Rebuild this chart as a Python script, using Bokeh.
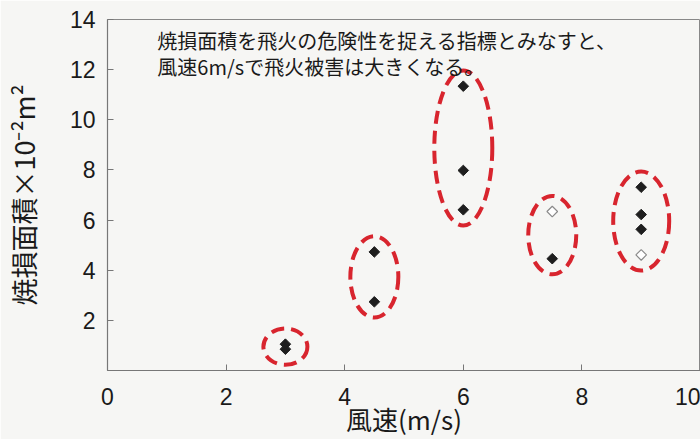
import numpy as np
from bokeh.plotting import figure
from bokeh.models import ColumnDataSource, Label, Range1d, FixedTicker
from bokeh.embed import file_html
from bokeh.resources import INLINE

# ---- data ----
wind_filled = [3.0, 3.0, 4.5, 4.5, 6.0, 6.0, 6.0, 7.5, 9.0, 9.0, 9.0]
area_filled = [1.05, 0.85, 4.73, 2.74, 11.34, 7.98, 6.41, 4.46, 7.31, 6.22, 5.63]
wind_open = [7.5, 9.0]
area_open = [6.34, 4.61]
group_wind = [3.0, 4.5, 6.0, 7.5, 9.0]
x_ticks = [0, 2, 4, 6, 8, 10]
y_ticks = [2, 4, 6, 8, 10, 12, 14]
x_title = "風速(m/s)"
y_title = "焼損面積×10⁻²m²"
note_lines = ["焼損面積を飛火の危険性を捉える指標とみなすと、",
              "風速6m/sで飛火被害は大きくなる。"]

# ---- styles ----
ellipse_w_px = [44, 48, 58, 48, 56]
ellipse_pad = 1.25
BG = "#f6f6f4"
RED = "#d8252e"
INK = "#1a1a1a"
JP = "Noto Sans CJK JP"
NUM = "Liberation Sans"

p = figure(width=700, height=439, output_backend="svg", toolbar_location=None,
           x_range=Range1d(0, 10), y_range=Range1d(0, 14),
           min_border_left=105, min_border_right=0, min_border_top=19,
           min_border_bottom=62)
p.background_fill_color = BG
p.border_fill_color = BG
p.outline_line_color = "#888888"
p.grid.visible = False

# group ellipses derived from data
allx = np.array(wind_filled + wind_open)
ally = np.array(area_filled + area_open)
cy, hh = [], []
for g in group_wind:
    ys = ally[allx == g]
    cy.append((ys.min() + ys.max()) / 2)
    hh.append(ys.max() - ys.min() + ellipse_pad)
esrc = ColumnDataSource(dict(x=group_wind, y=cy, h=hh, w=ellipse_w_px))
p.ellipse(x="x", y="y", width="w", height="h", width_units="screen",
          source=esrc, fill_alpha=0, line_color=RED, line_width=4,
          line_dash="13 7")

p.scatter(wind_filled, area_filled, marker="square", size=7.5, angle=np.pi / 4,
          fill_color="#1e1e1e", line_color="#1e1e1e")
p.scatter(wind_open, area_open, marker="square", size=7.5, angle=np.pi / 4,
          fill_color="white", line_color="#8a8a8a", line_width=1.2)

for ax in (p.xaxis[0], p.yaxis[0]):
    ax.axis_line_color = "#777777"
    ax.axis_line_width = 1.2
    ax.major_tick_in = 6
    ax.major_tick_out = 0
    ax.major_tick_line_color = "#777777"
    ax.minor_tick_line_color = None
    ax.major_label_text_font = NUM
    ax.major_label_text_font_size = "23px"
    ax.major_label_text_color = INK
    ax.axis_label_text_font = JP
    ax.axis_label_text_font_style = "normal"
    ax.axis_label_text_color = INK

p.xaxis.ticker = FixedTicker(ticks=x_ticks)
p.yaxis.ticker = FixedTicker(ticks=y_ticks)
p.xaxis.major_label_standoff = 17
p.yaxis.major_label_standoff = 12
p.xaxis.axis_label = x_title
p.xaxis.axis_label_text_font_size = "26px"
p.xaxis.axis_label_standoff = -8
p.yaxis.axis_label = y_title
p.yaxis.axis_label_text_font_size = "27px"
p.yaxis.axis_label_standoff = 24

note_x = 0.84
note_y = [13.18, 12.12]
for line, yy in zip(note_lines, note_y):
    p.add_layout(Label(x=note_x, y=yy, text=line, text_font=JP,
                       text_font_size="20px", text_color=INK,
                       text_baseline="middle"))

open("out.html", "w").write(file_html(p, INLINE))
